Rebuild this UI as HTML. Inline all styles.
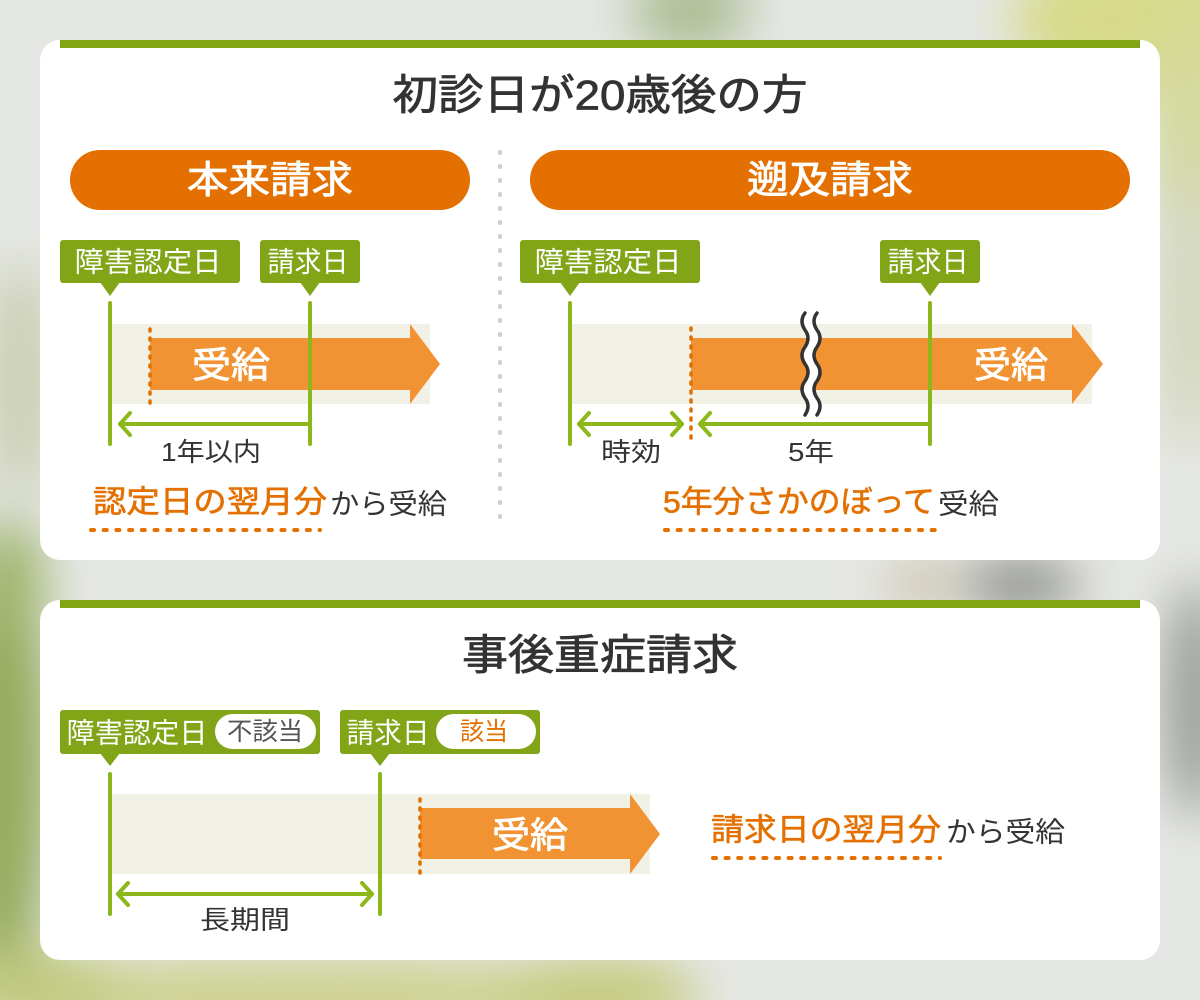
<!DOCTYPE html>
<html><head><meta charset="utf-8"><style>
html,body{margin:0;padding:0;width:1200px;height:1000px;overflow:hidden;background:#e5e7e4}
svg{display:block}
text{font-family:"Liberation Sans","Noto Sans CJK JP",sans-serif}
</style></head><body>
<svg width="1200" height="1000" viewBox="0 0 1200 1000" xmlns="http://www.w3.org/2000/svg">
<defs>
<filter id="bl" x="-50%" y="-50%" width="200%" height="200%"><feGaussianBlur stdDeviation="25"/></filter>
</defs>
<!-- background -->
<rect x="0" y="0" width="1200" height="1000" fill="#e5e7e4"/>
<g filter="url(#bl)">
<ellipse cx="1150" cy="20" rx="140" ry="70" fill="#d6da88"/>
<ellipse cx="1190" cy="120" rx="40" ry="120" fill="#d4d99a"/>
<ellipse cx="690" cy="10" rx="60" ry="40" fill="#aabb90"/>
<ellipse cx="0" cy="760" rx="50" ry="240" fill="#94aa5c"/>
<ellipse cx="10" cy="580" rx="35" ry="60" fill="#9fb46a"/>
<ellipse cx="20" cy="380" rx="30" ry="120" fill="#c6ccab"/>
<ellipse cx="300" cy="1000" rx="380" ry="40" fill="#cdd28e"/>
<ellipse cx="600" cy="995" rx="100" ry="35" fill="#c2c977"/>
<ellipse cx="40" cy="990" rx="80" ry="40" fill="#c0c97c"/>
<ellipse cx="1020" cy="585" rx="60" ry="25" fill="#868884"/>
<ellipse cx="920" cy="585" rx="30" ry="25" fill="#c9bfa6"/>
<ellipse cx="1195" cy="700" rx="30" ry="120" fill="#979a93"/>
<ellipse cx="1190" cy="300" rx="25" ry="150" fill="#cfd3b0"/>
</g>

<!-- Panel 1 -->
<rect x="40" y="40" width="1120" height="520" rx="20" fill="#fff"/>
<rect x="60" y="40" width="1080" height="8" fill="#82a614"/>
<text x="600" y="95" dominant-baseline="central" text-anchor="middle" font-size="42" fill="#333" stroke="#333" stroke-width="0.8" textLength="415" lengthAdjust="spacingAndGlyphs">初診日が20歳後の方</text>

<!-- separator -->
<line x1="500" y1="152" x2="500" y2="530" stroke="#cfcfcf" stroke-width="4" stroke-linecap="round" stroke-dasharray="1 13"/>

<!-- pills -->
<rect x="70" y="150" width="400" height="60" rx="30" fill="#e37000"/>
<text x="270" y="181" dominant-baseline="central" text-anchor="middle" font-size="38" fill="#fff" stroke="#fff" stroke-width="0.8" textLength="166" lengthAdjust="spacingAndGlyphs">本来請求</text>
<rect x="530" y="150" width="600" height="60" rx="30" fill="#e37000"/>
<text x="830" y="181" dominant-baseline="central" text-anchor="middle" font-size="38" fill="#fff" stroke="#fff" stroke-width="0.8" textLength="166" lengthAdjust="spacingAndGlyphs">遡及請求</text>

<!-- LEFT: 本来請求 diagram -->
<rect x="112" y="324" width="318" height="80" fill="#f1f1e6"/>
<rect x="150" y="338" width="262" height="52" fill="#f19332"/>
<polygon points="410,324 440,364 410,404" fill="#f19332"/>
<line x1="150" y1="329" x2="150" y2="404" stroke="#e36f00" stroke-width="3.5" stroke-linecap="round" stroke-dasharray="2 7"/>
<text x="231" y="365" dominant-baseline="central" text-anchor="middle" font-size="36" fill="#fff" stroke="#fff" stroke-width="0.8" textLength="78" lengthAdjust="spacingAndGlyphs">受給</text>

<rect x="60" y="240" width="180" height="43" rx="3" fill="#81a517"/>
<polygon points="100,282 120,282 110,296" fill="#81a517"/>
<text x="148" y="262" dominant-baseline="central" text-anchor="middle" font-size="28" fill="#fff" textLength="147" lengthAdjust="spacingAndGlyphs">障害認定日</text>
<rect x="260" y="240" width="100" height="43" rx="3" fill="#81a517"/>
<polygon points="300,282 320,282 310,296" fill="#81a517"/>
<text x="308" y="262" dominant-baseline="central" text-anchor="middle" font-size="28" fill="#fff" textLength="81" lengthAdjust="spacingAndGlyphs">請求日</text>

<g stroke="#8cb81c" stroke-width="4" stroke-linecap="round" stroke-linejoin="round" fill="none">
<line x1="110" y1="303" x2="110" y2="444"/>
<line x1="310" y1="303" x2="310" y2="444"/>
<line x1="120" y1="424" x2="310" y2="424"/>
<polyline points="130,413 120,424 130,435"/>
</g>
<text x="211" y="452" dominant-baseline="central" text-anchor="middle" font-size="26" fill="#333" textLength="100" lengthAdjust="spacingAndGlyphs">1年以内</text>

<text x="93" y="502" dominant-baseline="central" font-size="31" fill="#e37000" stroke="#e37000" stroke-width="0.6" textLength="234" lengthAdjust="spacingAndGlyphs">認定日の翌月分</text>
<text x="330" y="504" dominant-baseline="central" font-size="28" fill="#333" textLength="117" lengthAdjust="spacingAndGlyphs">から受給</text>
<line x1="91" y1="530" x2="320" y2="530" stroke="#e37000" stroke-width="4" stroke-linecap="round" stroke-dasharray="3 9.7"/>

<!-- RIGHT: 遡及請求 diagram -->
<rect x="572" y="324" width="520" height="80" fill="#f1f1e6"/>
<rect x="691" y="338" width="383" height="52" fill="#f19332"/>
<polygon points="1072,324 1103,364 1072,404" fill="#f19332"/>
<line x1="691" y1="328" x2="691" y2="444" stroke="#e36f00" stroke-width="3.5" stroke-linecap="round" stroke-dasharray="2 7"/>
<text x="1011" y="365" dominant-baseline="central" text-anchor="middle" font-size="36" fill="#fff" stroke="#fff" stroke-width="0.8" textLength="74" lengthAdjust="spacingAndGlyphs">受給</text>

<!-- wavy break -->
<path d="M811,313 q-6,8 0,17 q6,8 0,17 q-6,8 0,17 q6,8 0,17 q-6,8 0,17 q6,8 0,17" stroke="#fff" stroke-width="10" fill="none"/>
<path d="M805,313 q-6,8 0,17 q6,8 0,17 q-6,8 0,17 q6,8 0,17 q-6,8 0,17 q6,8 0,17" stroke="#333" stroke-width="3.5" fill="none" stroke-linecap="round"/>
<path d="M817,313 q-6,8 0,17 q6,8 0,17 q-6,8 0,17 q6,8 0,17 q-6,8 0,17 q6,8 0,17" stroke="#333" stroke-width="3.5" fill="none" stroke-linecap="round"/>

<rect x="520" y="240" width="180" height="43" rx="3" fill="#81a517"/>
<polygon points="560,282 580,282 570,296" fill="#81a517"/>
<text x="608" y="262" dominant-baseline="central" text-anchor="middle" font-size="28" fill="#fff" textLength="147" lengthAdjust="spacingAndGlyphs">障害認定日</text>
<rect x="880" y="240" width="100" height="43" rx="3" fill="#81a517"/>
<polygon points="920,282 940,282 930,296" fill="#81a517"/>
<text x="928" y="262" dominant-baseline="central" text-anchor="middle" font-size="28" fill="#fff" textLength="81" lengthAdjust="spacingAndGlyphs">請求日</text>

<g stroke="#8cb81c" stroke-width="4" stroke-linecap="round" stroke-linejoin="round" fill="none">
<line x1="570" y1="303" x2="570" y2="444"/>
<line x1="930" y1="303" x2="930" y2="444"/>
<line x1="579" y1="424" x2="682" y2="424"/>
<polyline points="589,413 579,424 589,435"/>
<polyline points="672,413 682,424 672,435"/>
<line x1="700" y1="424" x2="930" y2="424"/>
<polyline points="710,413 700,424 710,435"/>
</g>
<text x="631" y="452" dominant-baseline="central" text-anchor="middle" font-size="26" fill="#333" textLength="60" lengthAdjust="spacingAndGlyphs">時効</text>
<text x="811" y="452" dominant-baseline="central" text-anchor="middle" font-size="26" fill="#333" textLength="46" lengthAdjust="spacingAndGlyphs">5年</text>

<text x="663" y="502" dominant-baseline="central" font-size="31" fill="#e37000" stroke="#e37000" stroke-width="0.6" textLength="272" lengthAdjust="spacingAndGlyphs">5年分さかのぼって</text>
<text x="938" y="504" dominant-baseline="central" font-size="28" fill="#333" textLength="61" lengthAdjust="spacingAndGlyphs">受給</text>
<line x1="665" y1="530" x2="936" y2="530" stroke="#e37000" stroke-width="4" stroke-linecap="round" stroke-dasharray="3 9.7"/>

<!-- Panel 2 -->
<rect x="40" y="600" width="1120" height="360" rx="20" fill="#fff"/>
<rect x="60" y="600" width="1080" height="8" fill="#82a614"/>
<text x="600" y="655" dominant-baseline="central" text-anchor="middle" font-size="42" fill="#333" stroke="#333" stroke-width="0.8" textLength="276" lengthAdjust="spacingAndGlyphs">事後重症請求</text>

<rect x="112" y="794" width="538" height="80" fill="#f1f1e6"/>
<rect x="420" y="808" width="212" height="51" fill="#f19332"/>
<polygon points="630,794 660,834 630,874" fill="#f19332"/>
<line x1="420" y1="799" x2="420" y2="874" stroke="#e36f00" stroke-width="3.5" stroke-linecap="round" stroke-dasharray="2 7"/>
<text x="530" y="835" dominant-baseline="central" text-anchor="middle" font-size="36" fill="#fff" stroke="#fff" stroke-width="0.8" textLength="76" lengthAdjust="spacingAndGlyphs">受給</text>

<rect x="60" y="710" width="260" height="44" rx="3" fill="#81a517"/>
<polygon points="100,753 120,753 110,766" fill="#81a517"/>
<text x="137" y="733" dominant-baseline="central" text-anchor="middle" font-size="28" fill="#fff" textLength="141" lengthAdjust="spacingAndGlyphs">障害認定日</text>
<rect x="215" y="714" width="101" height="35" rx="17.5" fill="#fff"/>
<text x="265" y="732" dominant-baseline="central" text-anchor="middle" font-size="25" fill="#555" textLength="76" lengthAdjust="spacingAndGlyphs">不該当</text>

<rect x="340" y="710" width="200" height="44" rx="3" fill="#81a517"/>
<polygon points="370,753 390,753 380,766" fill="#81a517"/>
<text x="388" y="733" dominant-baseline="central" text-anchor="middle" font-size="28" fill="#fff" textLength="83" lengthAdjust="spacingAndGlyphs">請求日</text>
<rect x="436" y="714" width="100" height="35" rx="17.5" fill="#fff"/>
<text x="484" y="732" dominant-baseline="central" text-anchor="middle" font-size="25" fill="#e37000" textLength="48" lengthAdjust="spacingAndGlyphs">該当</text>

<g stroke="#8cb81c" stroke-width="4" stroke-linecap="round" stroke-linejoin="round" fill="none">
<line x1="110" y1="774" x2="110" y2="914"/>
<line x1="380" y1="774" x2="380" y2="914"/>
<line x1="118" y1="894" x2="372" y2="894"/>
<polyline points="128,883 118,894 128,905"/>
<polyline points="362,883 372,894 362,905"/>
</g>
<text x="245" y="920" dominant-baseline="central" text-anchor="middle" font-size="26" fill="#333" textLength="90" lengthAdjust="spacingAndGlyphs">長期間</text>

<text x="711" y="830" dominant-baseline="central" font-size="31" fill="#e37000" stroke="#e37000" stroke-width="0.6" textLength="230" lengthAdjust="spacingAndGlyphs">請求日の翌月分</text>
<text x="946" y="832" dominant-baseline="central" font-size="28" fill="#333" textLength="119" lengthAdjust="spacingAndGlyphs">から受給</text>
<line x1="713" y1="858" x2="940" y2="858" stroke="#e37000" stroke-width="4" stroke-linecap="round" stroke-dasharray="3 9.6"/>
</svg>
</body></html>
